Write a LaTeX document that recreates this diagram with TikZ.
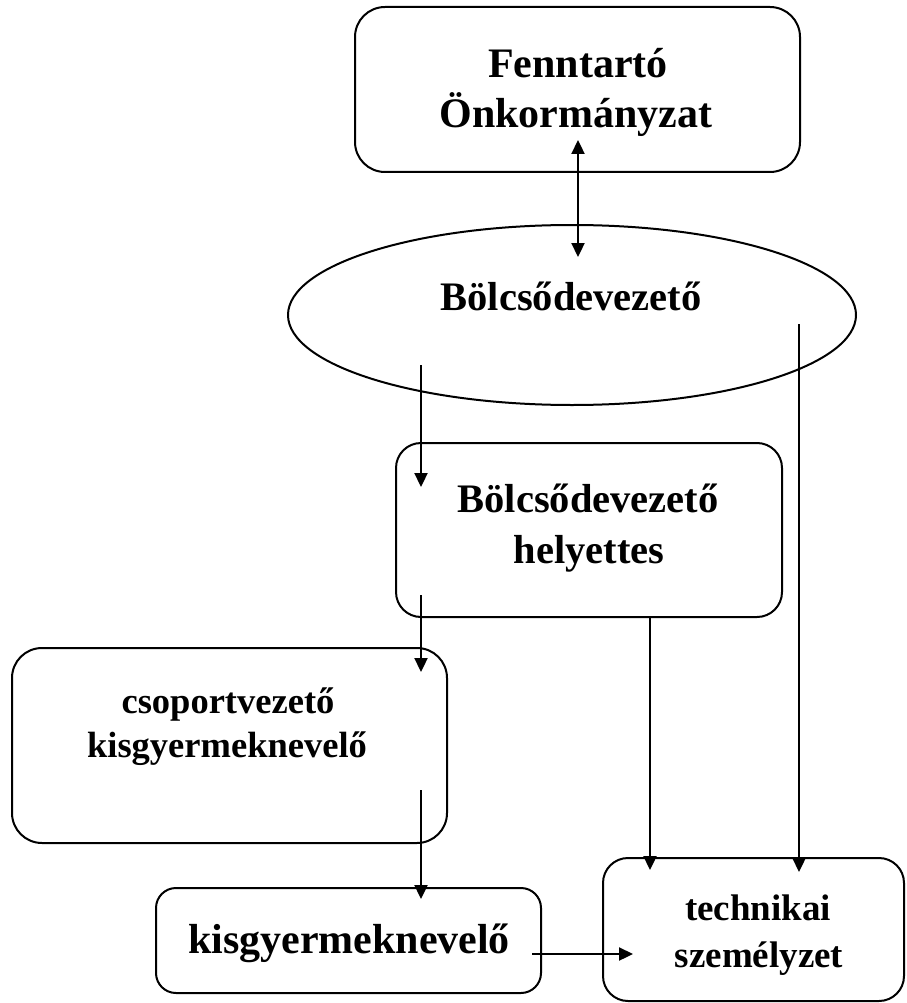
\documentclass[tikz,border=0pt]{standalone}
\usepackage{fontspec}
\setmainfont{Liberation Serif}
\usetikzlibrary{arrows.meta,shapes.geometric}
\begin{document}
\begin{tikzpicture}[x=1pt,y=-1pt,
  box/.style={draw,line width=2pt,inner sep=0pt},
  lbl/.style={anchor=base,inner sep=0pt},
  conn/.style={line width=2.3pt,-{Triangle[length=14pt,width=13pt]}},
  dconn/.style={line width=2.3pt,{Triangle[length=14pt,width=13pt]}-{Triangle[length=14pt,width=13pt]}}]
\useasboundingbox (0,0) rectangle (906,1003);
% shapes
\node[box,rounded corners=30pt,minimum width=445pt,minimum height=165pt] (A) at (577.5,89.5) {};
\node[box,ellipse,minimum width=568pt,minimum height=180pt] (B) at (572,315) {};
\node[box,rounded corners=25pt,minimum width=386pt,minimum height=174pt] (C) at (589,530) {};
\node[box,rounded corners=30pt,minimum width=435pt,minimum height=195pt] (D) at (229.5,745.5) {};
\node[box,rounded corners=20pt,minimum width=385pt,minimum height=105pt] (E) at (348.5,940.5) {};
\node[box,rounded corners=25pt,minimum width=301pt,minimum height=143pt] (F) at (753.5,929.5) {};
% texts
\node[lbl,font=\bfseries\fontsize{42}{50}\selectfont] (tA1) at (578,78) {Fenntartó};
\node[lbl,font=\bfseries\fontsize{42}{50}\selectfont] (tA2) at (576,128) {Önkormányzat};
\node[lbl,font=\bfseries\fontsize{40.5}{50}\selectfont] (tB) at (571,310) {Bölcsődevezető};
\node[lbl,font=\bfseries\fontsize{40.5}{50}\selectfont] (tC1) at (588,512) {Bölcsődevezető};
\node[lbl,font=\bfseries\fontsize{40.5}{50}\selectfont] (tC2) at (589,563) {helyettes};
\node[lbl,font=\bfseries\fontsize{36.5}{44}\selectfont] (tD1) at (228,713) {csoportvezető};
\node[lbl,font=\bfseries\fontsize{36.5}{44}\selectfont] (tD2) at (227,757) {kisgyermeknevelő};
\node[lbl,font=\bfseries\fontsize{42}{50}\selectfont] (tE) at (349,953) {kisgyermeknevelő};
\node[lbl,font=\bfseries\fontsize{37}{45}\selectfont] (tF1) at (758,920) {technikai};
\node[lbl,font=\bfseries\fontsize{37}{45}\selectfont] (tF2) at (759,967) {személyzet};
% connector end points
\coordinate (ab1) at (578,140);
\coordinate (ab2) at (578,257);
\coordinate (bc1) at (421,365);
\coordinate (bc2) at (421,487);
\coordinate (bf1) at (799,324);
\coordinate (bf2) at (799,872);
\coordinate (cd1) at (421,595);
\coordinate (cd2) at (421,672);
\coordinate (cf1) at (650,617);
\coordinate (cf2) at (650,870);
\coordinate (de1) at (421,790);
\coordinate (de2) at (421,899);
\coordinate (ef1) at (532,954);
\coordinate (ef2) at (633,954);
% connectors
\draw[dconn] (ab1) -- (ab2);
\draw[conn] (bc1) -- (bc2);
\draw[conn] (bf1) -- (bf2);
\draw[conn] (cd1) -- (cd2);
\draw[conn] (cf1) -- (cf2);
\draw[conn] (de1) -- (de2);
\draw[conn] (ef1) -- (ef2);
\end{tikzpicture}
\end{document}
